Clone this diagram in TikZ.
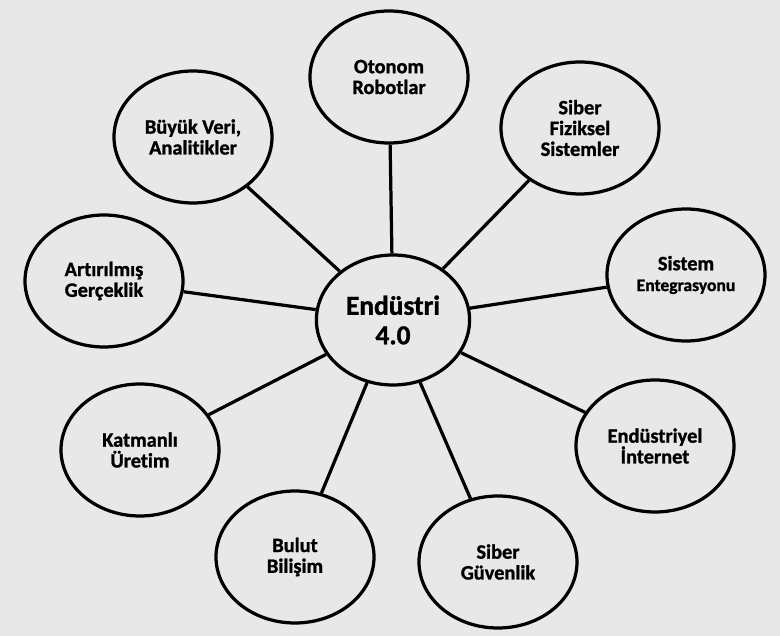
\documentclass[tikz,border=0pt]{standalone}
\usepackage{fontspec}
\setmainfont{Carlito}[Ligatures=NoCommon,BoldFeatures={FakeBold=1.2}]
\usetikzlibrary{shapes.geometric}

\begin{document}
\begin{tikzpicture}[
bubble/.style={draw,ellipse,line width=2.3pt,minimum width=3.95cm,minimum height=3.3cm,
  inner sep=0pt,align=center,font=\bfseries\fontsize{14.5}{14.8}\selectfont},
hub/.style={bubble,minimum width=3.83cm,minimum height=3.25cm,
  font=\bfseries\fontsize{19.5}{21}\selectfont},
spoke/.style={-,line width=2.3pt}
]
%Paper
\fill[black!9] (0,0) rectangle (19.5,15.9);
\useasboundingbox (0,0) rectangle (19.5,15.9);

%Center
\node[hub] (hub) at (9.825,7.9){Endüstri\\4.0};

%Top
\node[bubble] (otonom) at (9.725,13.975){Otonom\\Robotlar};

%Top Left
\node[bubble] (buyuk) at (4.825,12.475){Büyük Veri,\\Analitikler};

%Top Right
\node[bubble] (fiziksel) at (14.5,12.7){Siber\\Fiziksel\\Sistemler};

%Left
\node[bubble] (artirilmis) at (2.6,8.875){Artırılmış\\Gerçeklik};

%Right
\node[bubble] (sistem) at (17.15,9.025){Sistem\\{\fontsize{12.5}{13}\selectfont Entegrasyonu}};

%Bottom Left
\node[bubble] (katmanli) at (3.5,4.65){Katmanlı\\Üretim};

%Bottom Right
\node[bubble] (internet) at (16.375,4.75){Endüstriyel\\İnternet};

%Bottom
\node[bubble] (bulut) at (7.375,1.975){Bulut\\Bilişim};
\node[bubble] (guvenlik) at (12.45,1.85){Siber\\Güvenlik};

\draw[spoke] (hub) -- (otonom);
\draw[spoke] (hub) -- (buyuk);
\draw[spoke] (hub) -- (fiziksel);
\draw[spoke] (hub) -- (artirilmis);
\draw[spoke] (hub) -- (sistem);
\draw[spoke] (hub) -- (katmanli);
\draw[spoke] (hub) -- (internet);
\draw[spoke] (hub) -- (bulut);
\draw[spoke] (hub) -- (guvenlik);

\end{tikzpicture}
\end{document}
